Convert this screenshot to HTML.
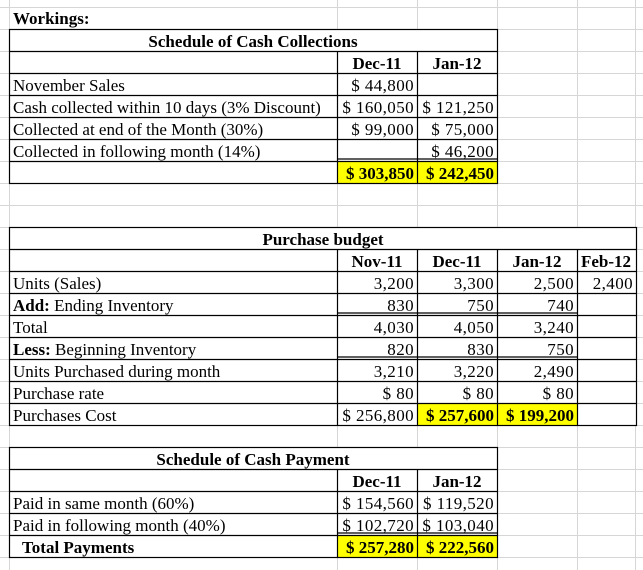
<!DOCTYPE html>
<html><head><meta charset="utf-8"><style>
html,body{margin:0;padding:0;background:#fff;}
svg{display:block;}
text{font-family:"Liberation Serif",serif;font-size:17px;fill:#000;}
.b{font-weight:bold;}
.r{text-anchor:end;}
.c{text-anchor:middle;}
.n{letter-spacing:0.4px;}
</style></head><body>
<svg width="643" height="570" viewBox="0 0 643 570" xmlns="http://www.w3.org/2000/svg">
<g stroke="#d6d6d6" stroke-width="1">
<line x1="0" y1="7.5" x2="643" y2="7.5"/><line x1="0" y1="29.5" x2="643" y2="29.5"/><line x1="0" y1="51.5" x2="643" y2="51.5"/><line x1="0" y1="73.5" x2="643" y2="73.5"/><line x1="0" y1="95.5" x2="643" y2="95.5"/><line x1="0" y1="117.5" x2="643" y2="117.5"/><line x1="0" y1="139.5" x2="643" y2="139.5"/><line x1="0" y1="161.5" x2="643" y2="161.5"/><line x1="0" y1="183.5" x2="643" y2="183.5"/><line x1="0" y1="205.5" x2="643" y2="205.5"/><line x1="0" y1="227.5" x2="643" y2="227.5"/><line x1="0" y1="249.5" x2="643" y2="249.5"/><line x1="0" y1="271.5" x2="643" y2="271.5"/><line x1="0" y1="293.5" x2="643" y2="293.5"/><line x1="0" y1="315.5" x2="643" y2="315.5"/><line x1="0" y1="337.5" x2="643" y2="337.5"/><line x1="0" y1="359.5" x2="643" y2="359.5"/><line x1="0" y1="381.5" x2="643" y2="381.5"/><line x1="0" y1="403.5" x2="643" y2="403.5"/><line x1="0" y1="425.5" x2="643" y2="425.5"/><line x1="0" y1="447.5" x2="643" y2="447.5"/><line x1="0" y1="469.5" x2="643" y2="469.5"/><line x1="0" y1="491.5" x2="643" y2="491.5"/><line x1="0" y1="513.5" x2="643" y2="513.5"/><line x1="0" y1="535.5" x2="643" y2="535.5"/><line x1="0" y1="557.5" x2="643" y2="557.5"/>
<line x1="9.5" y1="0" x2="9.5" y2="570"/><line x1="337.5" y1="0" x2="337.5" y2="570"/><line x1="417.5" y1="0" x2="417.5" y2="570"/><line x1="497.5" y1="0" x2="497.5" y2="570"/><line x1="577.5" y1="0" x2="577.5" y2="570"/><line x1="635.5" y1="0" x2="635.5" y2="570"/>
</g>
<!-- Table 1 -->
<rect x="9" y="29" width="488" height="154" fill="#fff"/>
<rect x="337" y="161" width="160" height="22" fill="#ffff00"/>
<g stroke="#000" stroke-width="1.2" fill="none">
<rect x="9.5" y="29.5" width="488" height="154"/>
<line x1="9" y1="51.5" x2="498" y2="51.5"/><line x1="9" y1="73.5" x2="498" y2="73.5"/><line x1="9" y1="95.5" x2="498" y2="95.5"/><line x1="9" y1="117.5" x2="498" y2="117.5"/><line x1="9" y1="139.5" x2="498" y2="139.5"/><line x1="9" y1="161.5" x2="498" y2="161.5"/>
<line x1="337" y1="159" x2="498" y2="159"/>
<line x1="337.5" y1="51" x2="337.5" y2="184"/><line x1="417.5" y1="51" x2="417.5" y2="184"/>
</g>
<text x="13" y="24" class="b">Workings:</text>
<text x="253" y="47" class="b c">Schedule of Cash Collections</text>
<text x="377" y="69" class="b c">Dec-11</text><text x="457" y="69" class="b c">Jan-12</text>
<text x="13" y="91">November Sales</text><text x="414" y="91" class="r n">$ 44,800</text>
<text x="13" y="113">Cash collected within 10 days (3% Discount)</text><text x="414" y="113" class="r n">$ 160,050</text><text x="494" y="113" class="r n">$ 121,250</text>
<text x="13" y="135">Collected at end of the Month (30%)</text><text x="414" y="135" class="r n">$ 99,000</text><text x="494" y="135" class="r n">$ 75,000</text>
<text x="13" y="157">Collected in following month (14%)</text><text x="494" y="157" class="r n">$ 46,200</text>
<text x="414" y="179" class="b r">$ 303,850</text><text x="494" y="179" class="b r">$ 242,450</text>
<!-- Table 2 -->
<rect x="9" y="227" width="627" height="198" fill="#fff"/>
<rect x="417" y="403" width="160" height="22" fill="#ffff00"/>
<g stroke="#000" stroke-width="1.2" fill="none">
<rect x="9.5" y="227.5" width="627" height="198"/>
<line x1="9" y1="249.5" x2="637" y2="249.5"/><line x1="9" y1="271.5" x2="637" y2="271.5"/><line x1="9" y1="293.5" x2="637" y2="293.5"/><line x1="9" y1="315.5" x2="637" y2="315.5"/><line x1="9" y1="337.5" x2="637" y2="337.5"/><line x1="9" y1="359.5" x2="637" y2="359.5"/><line x1="9" y1="381.5" x2="637" y2="381.5"/><line x1="9" y1="403.5" x2="637" y2="403.5"/>
<line x1="337" y1="313" x2="577" y2="313"/><line x1="337" y1="357" x2="577" y2="357"/>
<line x1="337.5" y1="249" x2="337.5" y2="426"/><line x1="417.5" y1="249" x2="417.5" y2="426"/><line x1="497.5" y1="249" x2="497.5" y2="426"/><line x1="577.5" y1="249" x2="577.5" y2="426"/>
</g>
<text x="323" y="245" class="b c">Purchase budget</text>
<text x="377" y="267" class="b c">Nov-11</text><text x="457" y="267" class="b c">Dec-11</text><text x="537" y="267" class="b c">Jan-12</text><text x="606" y="267" class="b c">Feb-12</text>
<text x="13" y="289">Units (Sales)</text><text x="414" y="289" class="r n">3,200</text><text x="494" y="289" class="r n">3,300</text><text x="574" y="289" class="r n">2,500</text><text x="633" y="289" class="r n">2,400</text>
<text x="13" y="311"><tspan class="b">Add:</tspan> Ending Inventory</text><text x="414" y="311" class="r n">830</text><text x="494" y="311" class="r n">750</text><text x="574" y="311" class="r n">740</text>
<text x="13" y="333">Total</text><text x="414" y="333" class="r n">4,030</text><text x="494" y="333" class="r n">4,050</text><text x="574" y="333" class="r n">3,240</text>
<text x="13" y="355"><tspan class="b">Less:</tspan> Beginning Inventory</text><text x="414" y="355" class="r n">820</text><text x="494" y="355" class="r n">830</text><text x="574" y="355" class="r n">750</text>
<text x="13" y="377">Units Purchased during month</text><text x="414" y="377" class="r n">3,210</text><text x="494" y="377" class="r n">3,220</text><text x="574" y="377" class="r n">2,490</text>
<text x="13" y="399">Purchase rate</text><text x="414" y="399" class="r n">$ 80</text><text x="494" y="399" class="r n">$ 80</text><text x="574" y="399" class="r n">$ 80</text>
<text x="13" y="421">Purchases Cost</text><text x="414" y="421" class="r n">$ 256,800</text><text x="494" y="421" class="b r">$ 257,600</text><text x="574" y="421" class="b r">$ 199,200</text>
<!-- Table 3 -->
<rect x="9" y="447" width="488" height="110" fill="#fff"/>
<rect x="337" y="535" width="160" height="22" fill="#ffff00"/>
<g stroke="#000" stroke-width="1.2" fill="none">
<rect x="9.5" y="447.5" width="488" height="110"/>
<line x1="9" y1="469.5" x2="498" y2="469.5"/><line x1="9" y1="491.5" x2="498" y2="491.5"/><line x1="9" y1="513.5" x2="498" y2="513.5"/><line x1="9" y1="535.5" x2="498" y2="535.5"/>
<line x1="337" y1="533" x2="498" y2="533"/>
<line x1="337.5" y1="469" x2="337.5" y2="558"/><line x1="417.5" y1="469" x2="417.5" y2="558"/>
</g>
<text x="253" y="465" class="b c">Schedule of Cash Payment</text>
<text x="377" y="487" class="b c">Dec-11</text><text x="457" y="487" class="b c">Jan-12</text>
<text x="13" y="509">Paid in same month (60%)</text><text x="414" y="509" class="r n">$ 154,560</text><text x="494" y="509" class="r n">$ 119,520</text>
<text x="13" y="531">Paid in following month (40%)</text><text x="414" y="531" class="r n">$ 102,720</text><text x="494" y="531" class="r n">$ 103,040</text>
<text x="22" y="553" class="b">Total Payments</text><text x="414" y="553" class="b r">$ 257,280</text><text x="494" y="553" class="b r">$ 222,560</text>
</svg>
</body></html>
